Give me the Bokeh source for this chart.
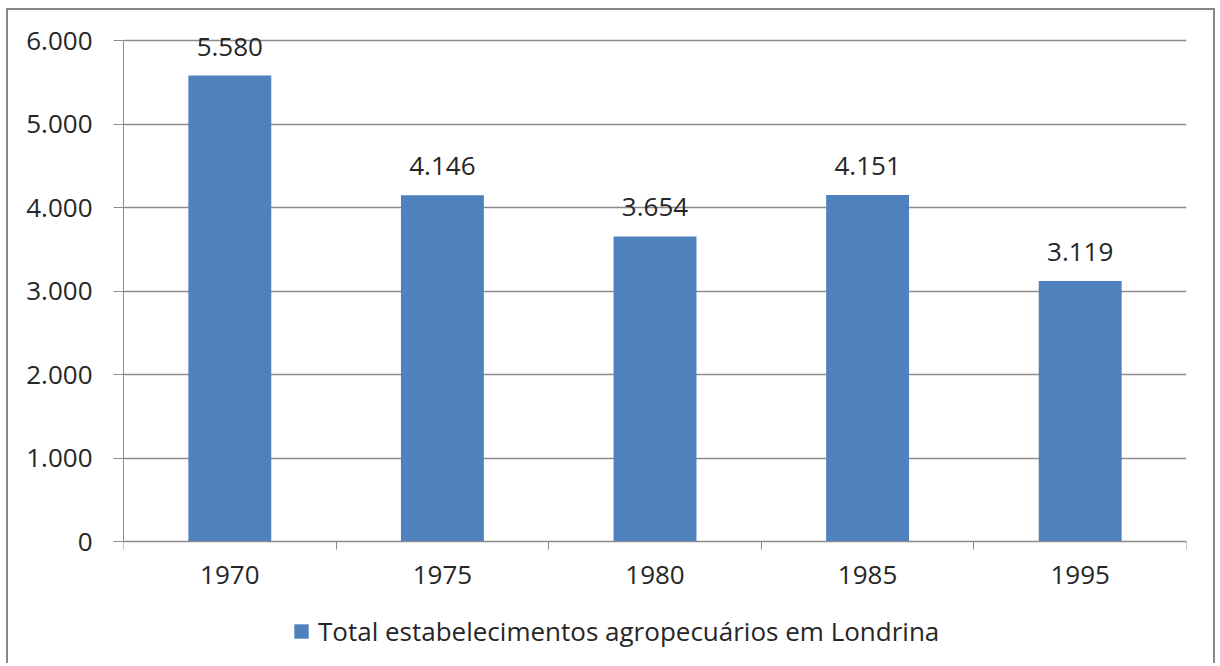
from bokeh.plotting import figure
from bokeh.models import ColumnDataSource, FixedTicker, Legend, LegendItem, Range1d
from bokeh.core.properties import value
from bokeh.embed import file_html
from bokeh.resources import INLINE

# Data
years = ["1970", "1975", "1980", "1985", "1995"]
totals = [5580, 4146, 3654, 4151, 3119]
y_ticks = [0, 1000, 2000, 3000, 4000, 5000, 6000]
series_name = "Total estabelecimentos agropecuários em Londrina"

def fmt(v):
    return "{:,}".format(v).replace(",", ".")

FONT = "Open Sans"
TXT = "#262626"
GRID = "#8c8c8c"
BLUE = "#4F81BD"

xs = [i + 0.5 for i in range(len(years))]
src = ColumnDataSource(dict(x=xs, y=totals, lbl=[fmt(v) for v in totals]))

# the frame extends beyond the 0..6000 axis so that labels and legend sit inside it
p = figure(width=1209, height=655, output_backend="svg", toolbar_location=None,
           x_range=Range1d(0, len(years)), y_range=Range1d(-1485, 6240),
           min_border_left=115, min_border_right=31, min_border_top=10, min_border_bottom=0)
p.styles = {"margin-left": "6px", "margin-top": "8px",
            "border-left": "2px solid #878787", "border-top": "2px solid #878787",
            "border-right": "2px solid #878787"}
p.outline_line_color = None
p.background_fill_color = "white"
p.border_fill_color = "white"

bars = p.vbar(x="x", top="y", width=0.39, source=src, fill_color=BLUE, line_color=None)

p.text(x="x", y="y", text="lbl", source=src, text_align="center", text_baseline="alphabetic",
       y_offset=-29, text_font=value(FONT), text_font_size="26px", text_color=TXT)

# x axis (fixed at zero)
p.xaxis.fixed_location = 0
p.xaxis.ticker = FixedTicker(ticks=xs, minor_ticks=list(range(len(years) + 1)))
p.xaxis.major_label_overrides = {x: y for x, y in zip(xs, years)}
p.xaxis.major_tick_out = 0
p.xaxis.major_tick_in = 0
p.xaxis.minor_tick_out = 8
p.xaxis.minor_tick_in = 0
p.xaxis.minor_tick_line_color = GRID
p.xaxis.axis_line_color = GRID
p.xaxis.major_label_standoff = 16
p.xaxis.major_label_text_font = FONT
p.xaxis.major_label_text_font_size = "26px"
p.xaxis.major_label_text_color = TXT
p.xgrid.grid_line_color = None

# y axis
p.yaxis.bounds = (0, 6000)
p.yaxis.ticker = FixedTicker(ticks=y_ticks, minor_ticks=[])
p.yaxis.major_label_overrides = {v: fmt(v) for v in y_ticks}
p.yaxis.major_tick_out = 10
p.yaxis.major_tick_in = 0
p.yaxis.major_tick_line_color = GRID
p.yaxis.axis_line_color = GRID
p.yaxis.major_label_standoff = 21
p.yaxis.major_label_text_font = FONT
p.yaxis.major_label_text_font_size = "26px"
p.yaxis.major_label_text_color = TXT
p.ygrid.grid_line_color = GRID
p.ygrid.grid_line_width = 1.5

legend = Legend(items=[LegendItem(label=series_name, renderers=[bars])],
                location=(169, 16), orientation="horizontal",
                glyph_width=18, glyph_height=18, label_standoff=8,
                padding=0, margin=0, border_line_color=None, background_fill_alpha=0,
                label_text_font=FONT, label_text_font_size="26px", label_text_color=TXT)
p.add_layout(legend, "center")

open("out.html", "w").write(file_html(p, INLINE))
